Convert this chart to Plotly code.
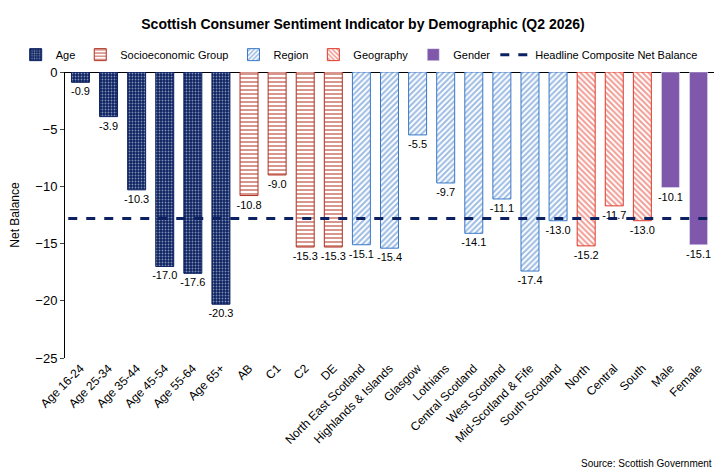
import plotly.graph_objects as go

age_cats = ["Age 16-24", "Age 25-34", "Age 35-44", "Age 45-54", "Age 55-64", "Age 65+"]
age_vals = [-0.9, -3.9, -10.3, -17.0, -17.6, -20.3]
seg_cats = ["AB", "C1", "C2", "DE"]
seg_vals = [-10.8, -9.0, -15.3, -15.3]
reg_cats = ["North East Scotland", "Highlands & Islands", "Glasgow", "Lothians", "Central Scotland",
            "West Scotland", "Mid-Scotland & Fife", "South Scotland"]
reg_vals = [-15.1, -15.4, -5.5, -9.7, -14.1, -11.1, -17.4, -13.0]
geo_cats = ["North", "Central", "South"]
geo_vals = [-15.2, -11.7, -13.0]
gen_cats = ["Male", "Female"]
gen_vals = [-10.1, -15.1]
headline = -12.8

all_cats = age_cats + seg_cats + reg_cats + geo_cats + gen_cats
font = "Liberation Sans, Arial, sans-serif"

fig = go.Figure()
def add(name, cats, vals, shape, bg, fg, line, size=4, sol=0.3):
    fig.add_bar(x=cats, y=vals, name=name, text=[f"{v:.1f}" for v in vals],
                textposition="outside", textfont=dict(size=11, color="#000"), constraintext="none",
                marker=dict(color=bg, line=dict(color=line, width=1),
                            pattern=dict(shape=shape, bgcolor=bg, fgcolor=fg, size=size, solidity=sol)),
                cliponaxis=False)

add("Age", age_cats, age_vals, ".", "#0b2161", "white", "#0b2161", 3, 0.3)
add("Socioeconomic Group", seg_cats, seg_vals, "-", "white", "#b03020", "#b03020", 4, 0.5)
add("Region", reg_cats, reg_vals, "/", "white", "#3a78c8", "#3a78c8", 4, 0.5)
add("Geography", geo_cats, geo_vals, "\\", "white", "#e03a2a", "#e03a2a", 4, 0.5)
fig.add_bar(x=gen_cats, y=gen_vals, name="Gender", text=[f"{v:.1f}" for v in gen_vals],
            textposition="outside", textfont=dict(size=11, color="#000"), constraintext="none",
            marker=dict(color="#7f58ab"), cliponaxis=False)
fig.add_scatter(x=[None], y=[None], mode="lines", name="Headline Composite Net Balance",
                line=dict(color="#0b2161", width=3, dash="dash"))
fig.add_shape(type="line", xref="paper", x0=0.005, x1=0.995, y0=headline, y1=headline,
              line=dict(color="#0b2161", width=3, dash="dash"))

fig.update_layout(
    width=710, height=465, plot_bgcolor="white", paper_bgcolor="white",
    font=dict(family=font, size=12, color="#000"),
    title=dict(text="<b>Scottish Consumer Sentiment Indicator by Demographic (Q2 2026)</b>",
               x=0.5, xanchor="center", y=0.975, font=dict(size=14)),
    margin=dict(l=50, r=4, t=64, b=115),
    barmode="overlay", bargap=0.36, showlegend=True,
    legend=dict(orientation="h", x=-0.076, xanchor="left", y=1.01, yanchor="bottom",
                font=dict(size=11), itemwidth=30, tracegroupgap=0,
                bgcolor="rgba(0,0,0,0)"),
    xaxis=dict(categoryorder="array", categoryarray=all_cats, tickangle=-45, side="bottom",
               range=[-0.55, 22.55], showline=False, ticks="", tickfont=dict(size=12)),
    yaxis=dict(range=[-25, 0], dtick=5, title=dict(text="Net Balance", font=dict(size=12)),
               showgrid=False, zeroline=True, zerolinecolor="#000", zerolinewidth=1,
               ticks="outside", ticklen=4, showline=True, linecolor="#000", tickfont=dict(size=13)),
    annotations=[dict(text="Source: Scottish Government", xref="paper", yref="paper",
                      x=1.0, y=-0.37, xanchor="right", yanchor="middle", showarrow=False,
                      font=dict(size=10))],
)
fig.write_html("out.html")
